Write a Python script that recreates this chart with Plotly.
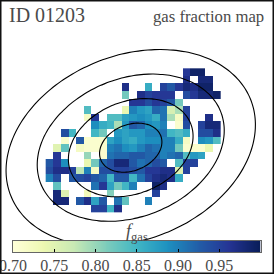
import numpy as np
import plotly.graph_objects as go

N = None
ROW_00 = [N,N,N,N,N,N,N,N,N,N,N,N,N,N,N,N,N,N,.96,.99,.99,N,N]
ROW_01 = [N,N,N,N,N,N,N,N,N,N,N,N,N,N,N,N,N,N,.97,N,.98,.98,N]
ROW_02 = [N,N,N,N,N,N,N,N,N,N,.97,N,N,.86,N,.95,.93,.96,.98,.97,.99,.99,N]
ROW_03 = [N,N,N,N,N,N,N,N,N,N,.82,N,.97,.95,.96,.96,.96,N,.94,.96,.98,.98,.99]
ROW_04 = [N,N,N,N,N,N,N,N,N,N,N,.96,.96,.94,.96,.95,.93,.82,N,N,N,N,N]
ROW_05 = [N,N,N,N,N,.84,N,N,N,N,.74,.90,.88,.87,.92,.91,.76,.79,.95,N,N,N,N]
ROW_06 = [N,N,N,N,N,.72,.96,N,.84,.84,.87,.88,.89,.88,.86,.91,.79,.72,.95,N,N,.97,N]
ROW_07 = [N,N,N,N,N,N,.89,.86,.85,.79,.88,.93,.92,.89,.88,.90,N,.71,.94,N,.95,.98,.98]
ROW_08 = [N,N,.94,.85,N,N,.85,.82,N,.88,.87,.88,.88,.90,.90,.91,.85,.84,.86,N,.94,.94,.97]
ROW_09 = [N,N,.71,N,.93,.71,.71,.71,.87,.89,.87,.86,.88,.89,.89,.90,.90,.86,.72,N,.89,.88,.84]
ROW_10 = [N,.75,.83,N,.72,.71,.71,.71,.90,.91,.89,.88,.90,.92,.91,.90,.90,.82,.71,.71,.71,.74,N]
ROW_11 = [N,.96,N,N,N,.80,N,.71,.91,.92,.92,.93,.93,.92,.92,.90,.91,.92,.84,.88,.87,N,N]
ROW_12 = [.93,.96,.89,N,N,.74,.82,.92,.94,.98,.98,.93,.91,.92,.94,.93,N,.84,.95,.95,N,N,N]
ROW_13 = [.94,.97,.97,.95,.78,.90,.72,.94,.94,.95,.95,.94,.93,.96,.96,.97,.97,.75,.95,N,N,N,N]
ROW_14 = [.90,.94,N,.93,.94,.95,.93,.92,.85,.93,.93,.85,.91,.95,.97,.98,.97,.86,N,N,N,N,N]
ROW_15 = [N,.83,N,N,N,N,.91,.96,.87,.82,.85,.90,N,N,.99,.97,N,N,N,N,N,N,N]
ROW_16 = [N,.98,.75,N,N,.73,N,N,.81,N,N,N,N,N,.95,N,N,N,N,N,N,N,N]
ROW_17 = [N,.98,.98,N,.93,.97,.87,.93,N,.91,.83,N,N,.90,N,N,N,N,N,N,N,N,N]
ROW_18 = [N,N,N,N,N,N,.95,.95,.85,.97,N,N,N,N,N,N,N,N,N,N,N,N,N]
GRID = [ROW_00,ROW_01,ROW_02,ROW_03,ROW_04,ROW_05,ROW_06,ROW_07,ROW_08,ROW_09,
        ROW_10,ROW_11,ROW_12,ROW_13,ROW_14,ROW_15,ROW_16,ROW_17,ROW_18]

TICK_VALUES = [0.70,0.75,0.80,0.85,0.90,0.95]
TICK_LABELS = ["0.70","0.75","0.80","0.85","0.90","0.95"]
RADII = [1,2,3,4]
FONT = "Liberation Serif"
GREY = "#4a4a4a"

fig = go.Figure()
fig.add_trace(go.Heatmap(z=GRID, colorscale="YlGnBu", zmin=0.70, zmax=1.0, hoverongaps=False, showscale=False))

t = np.radians(np.arange(0, 361, 3))
cx, cy, a, b, th = 10.69, 9.94, 4.25, 3.03, np.radians(22)
for r in RADII:
    u = r*a*np.cos(t); v = r*b*np.sin(t)
    fig.add_trace(go.Scatter(x=cx+u*np.cos(th)+v*np.sin(th), y=cy-u*np.sin(th)+v*np.cos(th),
                             mode="lines", line=dict(color="black", width=1.1, shape="spline"),
                             showlegend=False, hoverinfo="skip"))

bar = np.linspace(0.70, 1.0, 256)
fig.add_trace(go.Heatmap(x=bar, y=[0], z=[bar], colorscale="YlGnBu", zmin=0.70, zmax=1.0,
                         showscale=False, xaxis="x2", yaxis="y2", hoverinfo="skip"))

fig.update_layout(
    width=274, height=274, margin=dict(l=0,r=0,t=0,b=0), paper_bgcolor="white", plot_bgcolor="rgba(0,0,0,0)",
    xaxis=dict(range=[-6.51,29.54], visible=False, domain=[0,1], automargin=False),
    yaxis=dict(range=[26.56,-9.49], visible=False, domain=[0,1], automargin=False),
    xaxis2=dict(domain=[13/274,260.5/274], range=[0.70,1.0], anchor="y2", tickvals=TICK_VALUES, ticktext=TICK_LABELS,
                ticks="inside", ticklen=3, tickwidth=1, tickcolor="black", showline=True, linecolor="#666666", linewidth=1,
                mirror=True, showgrid=False, zeroline=False, ticklabeloverflow="allow", ticklabelstandoff=-1, automargin=False,
                tickfont=dict(family=FONT, size=16, color=GREY)),
    yaxis2=dict(domain=[1-252/274,1-241/274], anchor="x2", range=[-0.5,0.5], showticklabels=False, ticks="", automargin=False,
                showline=True, linecolor="#666666", linewidth=1, mirror=True, showgrid=False, zeroline=False),
    shapes=[dict(type="rect", xref="paper", yref="paper", x0=0, x1=1, y0=0, y1=1, line=dict(color="#111111", width=3))],
    annotations=[
        dict(text="ID 01203", xref="paper", yref="paper", x=7/274, y=1-15/274, xanchor="left", yanchor="middle",
             showarrow=False, font=dict(family=FONT, size=20, color=GREY)),
        dict(text="gas fraction map", xref="paper", yref="paper", x=266/274, y=1-16/274, xanchor="right", yanchor="middle",
             showarrow=False, font=dict(family=FONT, size=16.7, color=GREY)),
        dict(text="<i>f</i><sub>gas</sub>", xref="paper", yref="paper", x=137/274, y=1-232/274, xanchor="center", yanchor="middle",
             showarrow=False, font=dict(family=FONT, size=18, color=GREY)),
    ])
fig.write_html("out.html", config=dict(displayModeBar=False),
               post_script="document.body.style.margin='0';document.body.style.overflow='hidden';")
